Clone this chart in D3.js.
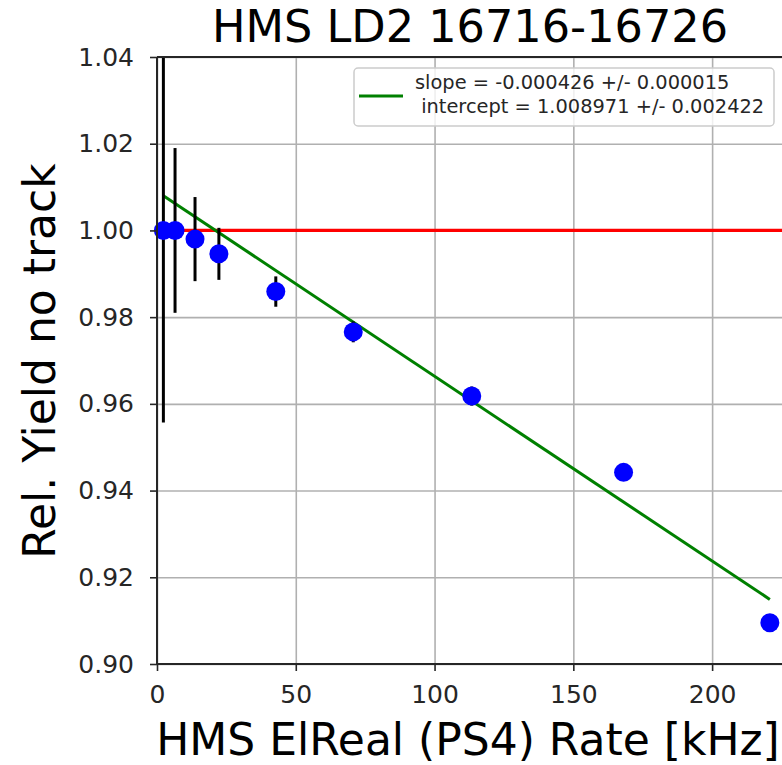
<!DOCTYPE html>
<html>
<head>
<meta charset="utf-8">
<script src="https://cdn.jsdelivr.net/npm/d3@7"></script>
<style>
  body { margin: 0; background: #fff; }
  svg { font-family: "DejaVu Sans", sans-serif; }
</style>
</head>
<body>
<svg id="chart" width="782" height="765"></svg>
<script>
// values
const rate = [2.3, 6.5, 13.7, 22.3, 42.8, 70.7, 113.4, 168.1, 220.8]
const yieldRel = [1.0, 1.0, 0.9980, 0.9946, 0.9859, 0.9766, 0.9618, 0.9442, 0.9095]
const yieldErr = [0.0443, 0.0190, 0.0097, 0.0060, 0.0035, 0.0024, 0.0022, 0.0015, 0.0012]

const fitX = [2.3, 220.8]
const fitY = [1.0080, 0.9149]
const fitLabel = ['slope = -0.000426 +/- 0.000015', ' intercept = 1.008971 +/- 0.002422']

const xTicks = [0, 50, 100, 150, 200]
const yTicks = [0.90, 0.92, 0.94, 0.96, 0.98, 1.00, 1.02, 1.04]

const svg = d3.select('#chart')

const plotLeft = 157, plotRight = 784, plotTop = 57, plotBottom = 664
const width = plotRight - plotLeft, height = plotBottom - plotTop

const x = d3.scaleLinear().domain([0, 225.9]).range([0, width])
const y = d3.scaleLinear().domain([0.90, 1.04]).range([height, 0])

svg.append('defs').append('clipPath').attr('id', 'clip')
    .append('rect').attr('width', width).attr('height', height)

const g = svg.append('g').attr('transform', `translate(${plotLeft},${plotTop})`)

// grid
g.append('g').attr('class', 'xgrid')
    .attr('transform', `translate(0,${height})`)
    .call(d3.axisBottom(x).tickValues(xTicks).tickSize(-height).tickFormat(''))
g.append('g').attr('class', 'ygrid')
    .call(d3.axisLeft(y).tickValues(yTicks).tickSize(-width).tickFormat(''))
g.selectAll('.xgrid .tick line, .ygrid .tick line')
    .attr('stroke', '#b0b0b0').attr('stroke-width', 1.6)
g.selectAll('.xgrid .domain, .ygrid .domain').remove()

const plot = g.append('g').attr('clip-path', 'url(#clip)')

// reference line at 1
plot.append('line')
    .attr('x1', 0).attr('x2', width)
    .attr('y1', y(1)).attr('y2', y(1))
    .attr('stroke', '#ff0000').attr('stroke-width', 3.2)

// fit
const fit = fitX.map((v, i) => ({ x: v, y: fitY[i] }))
plot.append('path')
    .datum(fit)
    .attr('fill', 'none')
    .attr('stroke', '#008000')
    .attr('stroke-width', 3)
    .attr('d', d3.line().x(d => x(d.x)).y(d => y(d.y)))

const points = rate.map((v, i) => ({ x: v, y: yieldRel[i], e: yieldErr[i] }))

// error bars
plot.selectAll('line.err').data(points).enter()
    .append('line')
    .attr('class', 'err')
    .attr('x1', d => x(d.x)).attr('x2', d => x(d.x))
    .attr('y1', d => y(d.y + d.e)).attr('y2', d => y(d.y - d.e))
    .attr('stroke', '#000').attr('stroke-width', 3)

// markers
g.selectAll('circle').data(points).enter()
    .append('circle')
    .attr('cx', d => x(d.x))
    .attr('cy', d => y(d.y))
    .attr('r', 9.5)
    .attr('fill', '#0000ff')

// axes
g.append('g').attr('class', 'xaxis')
    .attr('transform', `translate(0,${height})`)
    .call(d3.axisBottom(x).tickValues(xTicks).tickSize(7).tickPadding(14).tickFormat(d3.format('d')))
g.append('g').attr('class', 'yaxis')
    .call(d3.axisLeft(y).tickValues(yTicks).tickSize(7).tickPadding(16).tickFormat(d3.format('.2f')))

svg.selectAll('.xaxis text, .yaxis text')
    .attr('font-size', 25).attr('fill', '#262626').attr('font-family', '"DejaVu Sans", sans-serif')
svg.selectAll('.xaxis line, .yaxis line').attr('stroke', '#262626').attr('stroke-width', 1.6)
svg.selectAll('.xaxis .domain, .yaxis .domain').remove()

// spines (right one falls outside the picture)
g.append('line').attr('x1', 0).attr('x2', width).attr('y1', 0).attr('y2', 0)
    .attr('stroke', '#262626').attr('stroke-width', 2)
g.append('line').attr('x1', 0).attr('x2', width).attr('y1', height).attr('y2', height)
    .attr('stroke', '#262626').attr('stroke-width', 2)
g.append('line').attr('x1', 0).attr('x2', 0).attr('y1', 0).attr('y2', height)
    .attr('stroke', '#262626').attr('stroke-width', 2)

// legend
const legend = svg.append('g').attr('transform', 'translate(354,68)')
legend.append('rect')
    .attr('width', 420).attr('height', 58).attr('rx', 4)
    .attr('fill', '#fff').attr('fill-opacity', 0.8)
    .attr('stroke', '#cccccc').attr('stroke-width', 1.5)
legend.append('line')
    .attr('x1', 5).attr('x2', 49).attr('y1', 28).attr('y2', 28)
    .attr('stroke', '#008000').attr('stroke-width', 3)
legend.selectAll('text').data(fitLabel).enter()
    .append('text')
    .attr('x', 61)
    .attr('y', (d, i) => 21 + i * 24)
    .attr('font-size', 19.4)
    .attr('fill', '#262626')
    .attr('xml:space', 'preserve')
    .style('white-space', 'pre')
    .text(d => d)

// titles
svg.append('text')
    .attr('x', 470).attr('y', 42)
    .attr('text-anchor', 'middle')
    .attr('font-size', 44.6)
    .text('HMS LD2 16716-16726')

svg.append('text')
    .attr('x', 468).attr('y', 755)
    .attr('text-anchor', 'middle')
    .attr('font-size', 44)
    .text('HMS ElReal (PS4) Rate [kHz]')

svg.append('text')
    .attr('transform', 'translate(55,361) rotate(-90)')
    .attr('text-anchor', 'middle')
    .attr('font-size', 44)
    .text('Rel. Yield no track')
</script>
</body>
</html>
